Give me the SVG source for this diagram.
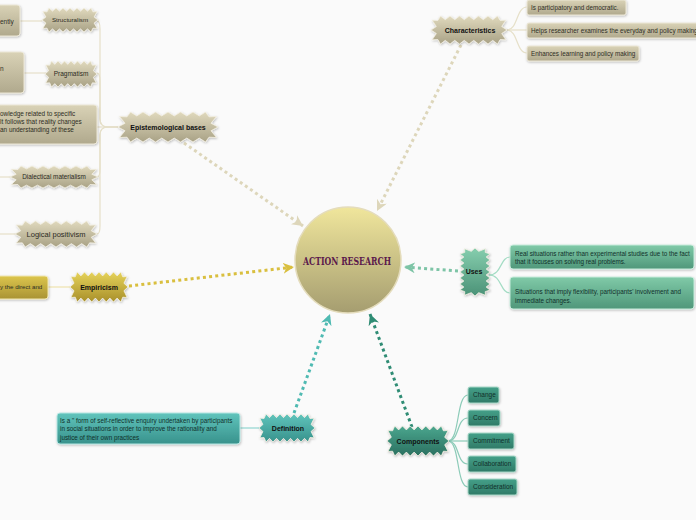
<svg xmlns="http://www.w3.org/2000/svg" xmlns:xlink="http://www.w3.org/1999/xlink" width="696" height="520" viewBox="0 0 696 520">
<style>
.lbl{font-family:"Liberation Sans",Arial,sans-serif;font-weight:bold;font-size:7px;fill:#111;text-anchor:middle}
.sub{font-family:"Liberation Sans",Arial,sans-serif;font-size:6.2px;fill:#2b2b22;text-anchor:middle}
.txt{font-family:"Liberation Sans",Arial,sans-serif;font-size:6.3px;fill:#2e2e24}
.txtd{font-family:"Liberation Sans",Arial,sans-serif;font-size:6.3px;fill:#10302a}
.burst{vector-effect:non-scaling-stroke;stroke-width:0.8;stroke:#f4f0e2}
.dot{fill:none;stroke-width:3;stroke-dasharray:3 3.2}
.ln{fill:none;stroke-width:1.2}
.tan{stroke:#e6e0c9}
</style>
<defs>
<linearGradient id="gTan" x1="0" y1="0" x2="0" y2="1"><stop offset="0" stop-color="#e0d9bd"/><stop offset="1" stop-color="#a9a286"/></linearGradient>
<linearGradient id="gTanR" x1="0" y1="0" x2="0" y2="1"><stop offset="0" stop-color="#d9d2b6"/><stop offset="1" stop-color="#b0a98d"/></linearGradient>
<linearGradient id="gGold" x1="0" y1="0" x2="0" y2="1"><stop offset="0" stop-color="#e6d35a"/><stop offset="1" stop-color="#a88f2a"/></linearGradient>
<linearGradient id="gGoldR" x1="0" y1="0" x2="0" y2="1"><stop offset="0" stop-color="#dcc54c"/><stop offset="1" stop-color="#a99334"/></linearGradient>
<linearGradient id="gUse" x1="0" y1="0" x2="0" y2="1"><stop offset="0" stop-color="#86ceae"/><stop offset="1" stop-color="#4b9277"/></linearGradient>
<linearGradient id="gUseR" x1="0" y1="0" x2="0" y2="1"><stop offset="0" stop-color="#80caa8"/><stop offset="1" stop-color="#4f977a"/></linearGradient>
<linearGradient id="gDef" x1="0" y1="0" x2="0" y2="1"><stop offset="0" stop-color="#60c4bc"/><stop offset="1" stop-color="#38928c"/></linearGradient>
<linearGradient id="gCmp" x1="0" y1="0" x2="0" y2="1"><stop offset="0" stop-color="#4aa68e"/><stop offset="1" stop-color="#2b7060"/></linearGradient>
<linearGradient id="gCmpR" x1="0" y1="0" x2="0" y2="1"><stop offset="0" stop-color="#45a089"/><stop offset="1" stop-color="#307a67"/></linearGradient>
<linearGradient id="gCenter" x1="0" y1="0" x2="0" y2="1"><stop offset="0" stop-color="#f0e69c"/><stop offset="1" stop-color="#a59d70"/></linearGradient>
<filter id="sh" x="-20%" y="-20%" width="140%" height="150%"><feDropShadow dx="0.6" dy="1" stdDeviation="0.8" flood-color="#000" flood-opacity="0.25"/></filter>
<polygon id="burst" class="burst" points="-1,0 -0.86,-0.25 -0.97,-0.7 -0.82,-0.68 -0.75,-1 -0.625,-0.74 -0.5,-1 -0.375,-0.74 -0.25,-1 -0.125,-0.74 0,-1 0.125,-0.74 0.25,-1 0.375,-0.74 0.5,-1 0.625,-0.74 0.75,-1 0.82,-0.68 0.97,-0.7 0.86,-0.25 1,0 0.86,0.25 0.97,0.7 0.82,0.68 0.75,1 0.625,0.74 0.5,1 0.375,0.74 0.25,1 0.125,0.74 0,1 -0.125,0.74 -0.25,1 -0.375,0.74 -0.5,1 -0.625,0.74 -0.75,1 -0.82,0.68 -0.97,0.7 -0.86,0.25"/>
<polygon id="burstV" class="burst" points="0,-1 -0.25,-0.86 -0.7,-0.97 -0.68,-0.82 -1,-0.75 -0.74,-0.625 -1,-0.5 -0.74,-0.375 -1,-0.25 -0.74,-0.125 -1,0 -0.74,0.125 -1,0.25 -0.74,0.375 -1,0.5 -0.74,0.625 -1,0.75 -0.68,0.82 -0.7,0.97 -0.25,0.86 0,1 0.25,0.86 0.7,0.97 0.68,0.82 1,0.75 0.74,0.625 1,0.5 0.74,0.375 1,0.25 0.74,0.125 1,0 0.74,-0.125 1,-0.25 0.74,-0.375 1,-0.5 0.74,-0.625 1,-0.75 0.68,-0.82 0.7,-0.97 0.25,-0.86"/>
<marker id="aTan" viewBox="0 0 10 10" refX="10" refY="5" markerWidth="11" markerHeight="11" markerUnits="userSpaceOnUse" orient="auto"><path d="M0,0 L10,5 L0,10 L3,5 z" fill="#ddd6ba"/></marker>
<marker id="aGold" viewBox="0 0 10 10" refX="10" refY="5" markerWidth="11" markerHeight="11" markerUnits="userSpaceOnUse" orient="auto"><path d="M0,0 L10,5 L0,10 L3,5 z" fill="#d9bf3f"/></marker>
<marker id="aUse" viewBox="0 0 10 10" refX="10" refY="5" markerWidth="11" markerHeight="11" markerUnits="userSpaceOnUse" orient="auto"><path d="M0,0 L10,5 L0,10 L3,5 z" fill="#7dc4a6"/></marker>
<marker id="aDef" viewBox="0 0 10 10" refX="10" refY="5" markerWidth="11" markerHeight="11" markerUnits="userSpaceOnUse" orient="auto"><path d="M0,0 L10,5 L0,10 L3,5 z" fill="#4fbab2"/></marker>
<marker id="aCmp" viewBox="0 0 10 10" refX="10" refY="5" markerWidth="11" markerHeight="11" markerUnits="userSpaceOnUse" orient="auto"><path d="M0,0 L10,5 L0,10 L3,5 z" fill="#2f8c74"/></marker>
</defs>
<rect width="696" height="520" fill="#fafafa"/>

<g id="connectors">
  <path class="dot" stroke="#ddd6ba" d="M184,143 L303,226" marker-end="url(#aTan)"/>
  <path class="dot" stroke="#ddd6ba" d="M461,45 L377,211" marker-end="url(#aTan)"/>
  <path class="dot" stroke="#d9bf3f" d="M129,286 L294,267" marker-end="url(#aGold)"/>
  <path class="dot" stroke="#7dc4a6" d="M458,271 L404,267" marker-end="url(#aUse)"/>
  <path class="dot" stroke="#4fbab2" d="M294,413 L330,314" marker-end="url(#aDef)"/>
  <path class="dot" stroke="#2f8c74" d="M412,427 L370,314" marker-end="url(#aCmp)"/>
  <g class="ln tan">
    <path d="M118,127 H108 Q100,127 100,119 V29 Q100,21 97,21"/>
    <path d="M118,127 H108 Q100,127 100,119 V81 Q100,73 97,73"/>
    <path d="M118,127 H97"/>
    <path d="M118,127 H108 Q100,127 100,135 V169 Q100,177 97,177"/>
    <path d="M118,127 H108 Q100,127 100,135 V226 Q100,234 97,234"/>
    <path d="M20,21 H42"/>
    <path d="M24,73 H46"/>
    <path d="M0,177 H11"/>
    <path d="M0,234 H16"/>
    <path d="M507,30 C518,30 516,7 527,7"/>
    <path d="M507,30 H527"/>
    <path d="M507,30 C518,30 516,53 527,53"/>
  </g>
  <path class="ln" stroke="#eee3ae" d="M48,287 H71"/>
  <g class="ln" stroke="#a3dcc4">
    <path d="M489,275 C502,275 500,257 510,257"/>
    <path d="M489,275 C502,275 500,293 510,293"/>
  </g>
  <path class="ln" stroke="#92d6d0" d="M240,428 H260"/>
  <g class="ln" stroke="#8ccbb8">
    <path d="M448,441 C460,441 456,395 468,395"/>
    <path d="M448,441 C460,441 456,418 468,418"/>
    <path d="M448,441 H468"/>
    <path d="M448,441 C460,441 456,464 468,464"/>
    <path d="M448,441 C460,441 456,487 468,487"/>
  </g>
</g>

<g id="action-research">
  <circle cx="348" cy="260" r="53" fill="url(#gCenter)" stroke="#e4dcbc" stroke-width="1.5"/>
  <text x="347" y="265" font-family="'DejaVu Serif',serif" font-weight="bold" font-size="11" fill="#5b1a4c" text-anchor="middle" textLength="88" lengthAdjust="spacingAndGlyphs">ACTION RESEARCH</text>
</g>

<g id="epistemological-bases" transform="translate(168,127)">
  <g filter="url(#sh)"><use xlink:href="#burst" transform="scale(50,15)" fill="url(#gTan)"/></g>
  <text class="lbl" y="2.5">Epistemological bases</text>
</g>
<g id="structuralism" transform="translate(70,20)">
  <g filter="url(#sh)"><use xlink:href="#burst" transform="scale(28,12)" fill="url(#gTan)"/></g>
  <text class="sub" y="2">Structuralism</text>
</g>
<g id="structuralism-note">
  <rect x="-10" y="5" width="30" height="31" rx="3" fill="url(#gTanR)" stroke="#ece7d6" filter="url(#sh)"/>
  <text class="txt" x="0" y="24" style="font-size:6.5px">ently</text>
</g>
<g id="pragmatism" transform="translate(71,74)">
  <g filter="url(#sh)"><use xlink:href="#burst" transform="scale(26,13)" fill="url(#gTan)"/></g>
  <text class="sub" y="2.2" style="font-size:6.5px">Pragmatism</text>
</g>
<g id="pragmatism-note">
  <rect x="-10" y="52" width="34" height="41" rx="3" fill="url(#gTanR)" stroke="#ece7d6" filter="url(#sh)"/>
  <text class="txt" x="0" y="71" style="font-size:6.5px">n</text>
</g>
<g id="knowledge-note">
  <rect x="-10" y="105" width="107" height="39" rx="3" fill="url(#gTanR)" stroke="#ece7d6" filter="url(#sh)"/>
  <text class="txt" x="0" y="115.5" style="font-size:6.4px">owledge related to specific</text>
  <text class="txt" x="0" y="123.5" style="font-size:6.4px">lt follows that reality changes</text>
  <text class="txt" x="0" y="132" style="font-size:6.4px">an understanding of these</text>
</g>
<g id="dialectical-materialism" transform="translate(54,177)">
  <g filter="url(#sh)"><use xlink:href="#burst" transform="scale(44,11)" fill="url(#gTan)"/></g>
  <text class="sub" y="2" style="font-size:6.4px">Dialectical materialism</text>
</g>
<g id="logical-positivism" transform="translate(56,234)">
  <g filter="url(#sh)"><use xlink:href="#burst" transform="scale(41,13)" fill="url(#gTan)"/></g>
  <text class="sub" y="2.5" style="font-size:7.5px">Logical positivism</text>
</g>

<g id="empiricism" transform="translate(99,287)">
  <g filter="url(#sh)"><use xlink:href="#burst" transform="scale(29,15)" fill="url(#gGold)"/></g>
  <text class="lbl" y="2.5">Empiricism</text>
</g>
<g id="empiricism-note">
  <rect x="-10" y="276" width="58" height="23" rx="3" fill="url(#gGoldR)" stroke="#f0e6b0" filter="url(#sh)"/>
  <text class="txt" x="0" y="289" style="font-size:6.2px">y the direct and</text>
</g>

<g id="characteristics" transform="translate(469,30)">
  <g filter="url(#sh)"><use xlink:href="#burst" transform="scale(38,14)" fill="url(#gTan)"/></g>
  <text class="lbl" x="1" y="2.5">Characteristics</text>
</g>
<g id="char-1">
  <rect x="527" y="0" width="99" height="15" rx="2" fill="url(#gTanR)" stroke="#ece7d6" filter="url(#sh)"/>
  <text class="txt" x="531" y="9.5">Is participatory and democratic.</text>
</g>
<g id="char-2">
  <rect x="527" y="23" width="180" height="15" rx="2" fill="url(#gTanR)" stroke="#ece7d6" filter="url(#sh)"/>
  <text class="txt" x="531" y="32.5">Helps researcher examines the everyday and policy making</text>
</g>
<g id="char-3">
  <rect x="527" y="46" width="112" height="15" rx="2" fill="url(#gTanR)" stroke="#ece7d6" filter="url(#sh)"/>
  <text class="txt" x="531" y="55.5">Enhances learning  and policy making</text>
</g>

<g id="uses" transform="translate(475,272)">
  <g filter="url(#sh)"><use xlink:href="#burstV" transform="scale(15,24)" fill="url(#gUse)"/></g>
  <text class="lbl" x="-1" y="2">Uses</text>
</g>
<g id="uses-1">
  <rect x="510" y="245" width="184" height="24" rx="3" fill="url(#gUseR)" stroke="#c8ecdc" filter="url(#sh)"/>
  <text class="txtd" x="515" y="255.5">Real situations rather than experimental studies due to the fact</text>
  <text class="txtd" x="515" y="264">that it focuses on solving real problems.</text>
</g>
<g id="uses-2">
  <rect x="510" y="277" width="184" height="32" rx="3" fill="url(#gUseR)" stroke="#c8ecdc" filter="url(#sh)"/>
  <text class="txtd" x="515" y="294">Situations that imply flexibility, participants' involvement and</text>
  <text class="txtd" x="515" y="303">immediate changes.</text>
</g>

<g id="definition" transform="translate(287,428)">
  <g filter="url(#sh)"><use xlink:href="#burst" transform="scale(28,14)" fill="url(#gDef)"/></g>
  <text class="lbl" x="1" y="2.5">Definition</text>
</g>
<g id="definition-note">
  <rect x="57" y="413" width="183" height="31" rx="3" fill="url(#gDef)" stroke="#b6e6e2" filter="url(#sh)"/>
  <text class="txtd" x="60" y="422.7">Is a " form of self-reflective enquiry undertaken by participants</text>
  <text class="txtd" x="60" y="431">in social situations in order to improve the rationality and</text>
  <text class="txtd" x="60" y="439.7">justice of their own practices</text>
</g>

<g id="components" transform="translate(418,441)">
  <g filter="url(#sh)"><use xlink:href="#burst" transform="scale(31,15)" fill="url(#gCmp)"/></g>
  <text class="lbl" y="2.5">Components</text>
</g>
<g id="comp-change">
  <rect x="468" y="387" width="31" height="16" rx="2" fill="url(#gCmpR)" stroke="#a8d8c8" filter="url(#sh)"/>
  <text class="txtd" x="473" y="397" style="font-size:6.5px">Change</text>
</g>
<g id="comp-concern">
  <rect x="468" y="410" width="32" height="16" rx="2" fill="url(#gCmpR)" stroke="#a8d8c8" filter="url(#sh)"/>
  <text class="txtd" x="473" y="420" style="font-size:6.5px">Concern</text>
</g>
<g id="comp-commitment">
  <rect x="468" y="433" width="46" height="16" rx="2" fill="url(#gCmpR)" stroke="#a8d8c8" filter="url(#sh)"/>
  <text class="txtd" x="473" y="443" style="font-size:6.5px">Commitment</text>
</g>
<g id="comp-collaboration">
  <rect x="468" y="456" width="48" height="16" rx="2" fill="url(#gCmpR)" stroke="#a8d8c8" filter="url(#sh)"/>
  <text class="txtd" x="473" y="466" style="font-size:6.5px">Collaboration</text>
</g>
<g id="comp-consideration">
  <rect x="468" y="479" width="49" height="16" rx="2" fill="url(#gCmpR)" stroke="#a8d8c8" filter="url(#sh)"/>
  <text class="txtd" x="473" y="489" style="font-size:6.5px">Consideration</text>
</g>
</svg>
